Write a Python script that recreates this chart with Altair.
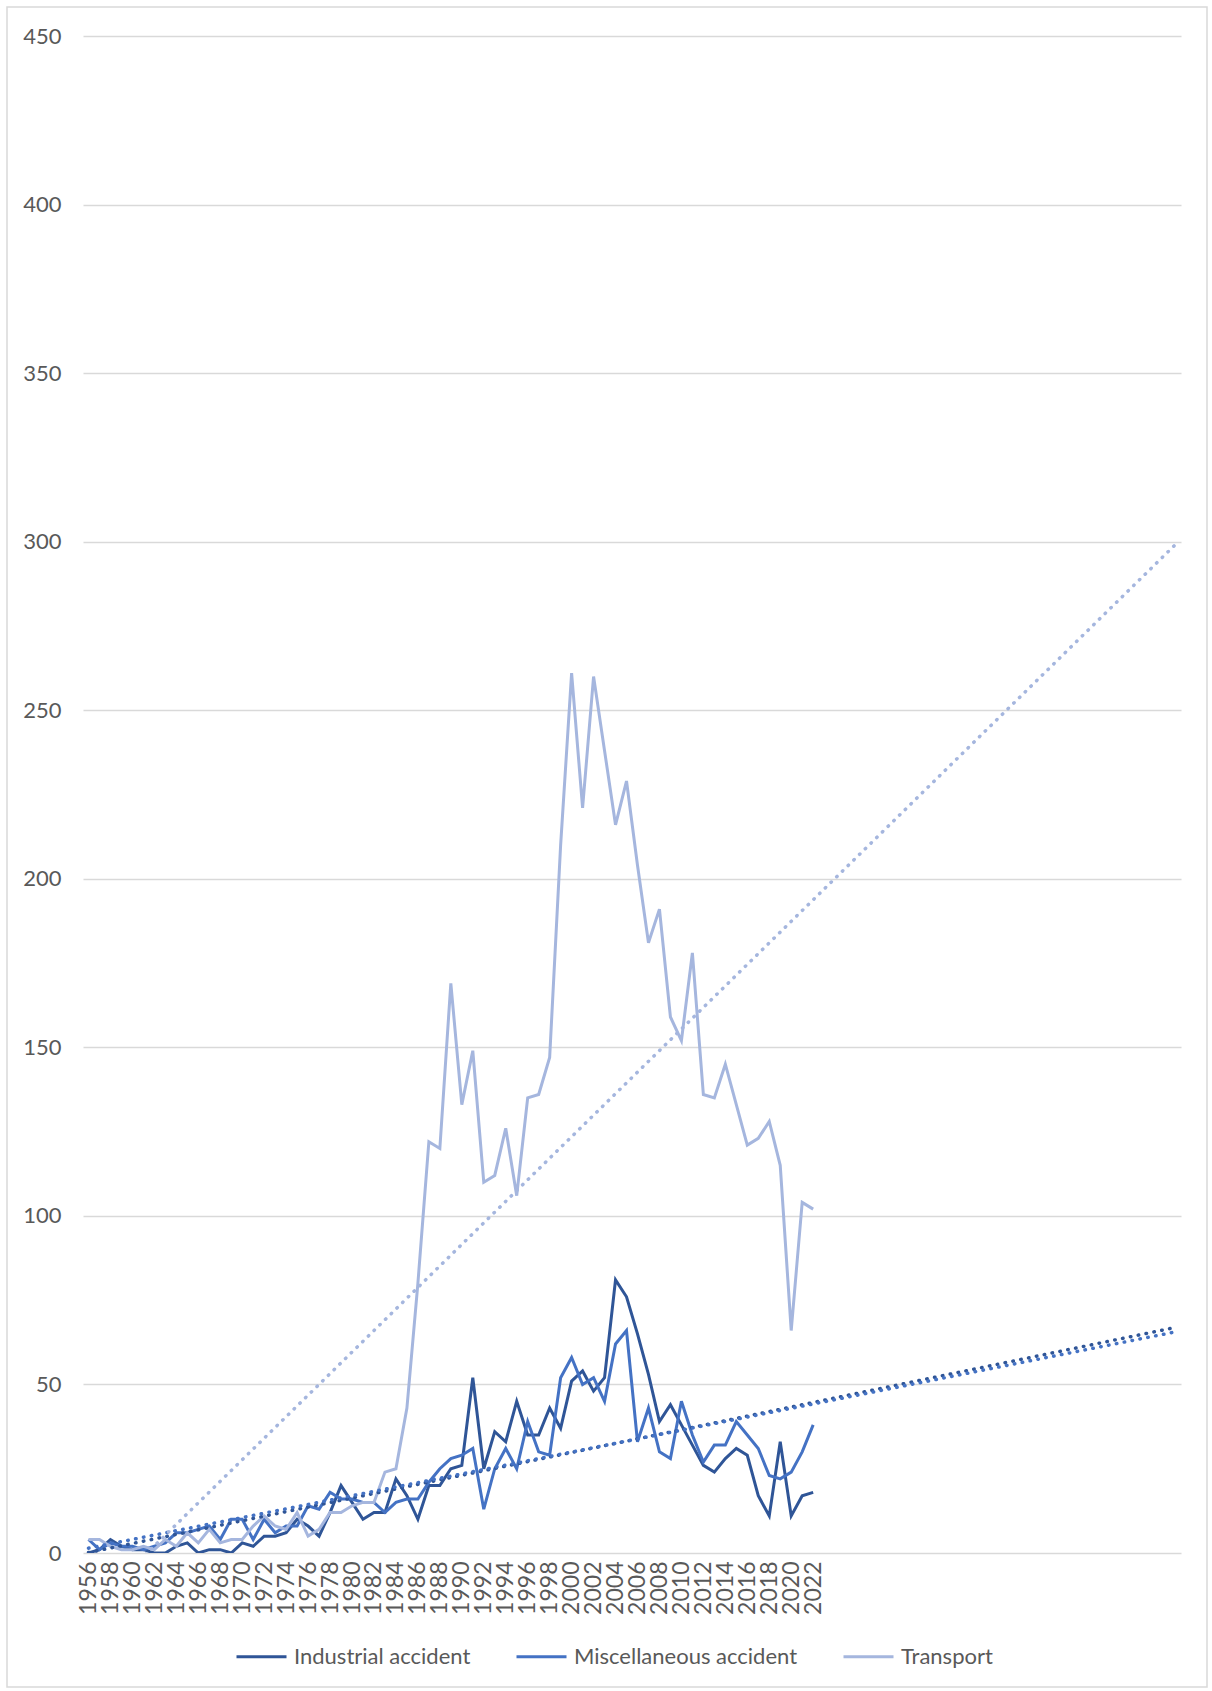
import altair as alt
import pandas as pd

years = list(range(1956, 2023))
series_names = ["Industrial accident", "Miscellaneous accident", "Transport"]

industrial = [0, 1, 4, 2, 1, 1, 0, 0, 2, 3,
              0, 1, 1, 0, 3, 2, 5, 5, 6, 10,
              8, 5, 12, 20, 15, 10, 12, 12, 22, 17,
              10, 20, 20, 25, 26, 52, 25, 36, 33, 45,
              35, 35, 43, 37, 51, 54, 48, 52, 81, 76,
              65, 53, 39, 44, 38, 32, 26, 24, 28, 31,
              29, 17, 11, 33, 11, 17, 18]
miscellaneous = [4, 1, 3, 2, 2, 1, 2, 3, 6, 6,
                 7, 8, 4, 10, 10, 4, 10, 6, 8, 8,
                 14, 13, 18, 16, 16, 15, 15, 12, 15, 16,
                 16, 21, 25, 28, 29, 31, 13, 25, 31, 25,
                 39, 30, 29, 52, 58, 50, 52, 45, 62, 66,
                 33, 43, 30, 28, 45, 35, 27, 32, 32, 39,
                 35, 31, 23, 22, 24, 30, 38]
transport = [4, 4, 2, 1, 1, 2, 1, 4, 2, 6,
             3, 7, 3, 4, 4, 8, 11, 8, 7, 12,
             5, 7, 12, 12, 14, 15, 15, 24, 25, 43,
             80, 122, 120, 169, 133, 149, 110, 112, 126, 106,
             135, 136, 147, 210, 261, 221, 260, 238, 216, 229,
             204, 181, 191, 159, 152, 178, 136, 135, 145, 133,
             121, 123, 128, 115, 66, 104, 102]

y_ticks = list(range(0, 451, 50))
x_ticks = list(range(1956, 2023, 2))
trend_extent = [1956, 2055]

colors = ["#2F5597", "#4472C4", "#A5B6DE"]
FONT = "Lato"
TEXT = "#595959"
GRID = "#D9D9D9"

rows = []
for name, vals in zip(series_names, [industrial, miscellaneous, transport]):
    for yr, v in zip(years, vals):
        rows.append({"year": yr, "series": name, "value": v})
df = pd.DataFrame(rows)

x_axis = alt.Axis(values=x_ticks, format="d", labelAngle=270, grid=False,
                  domain=False, ticks=False, tickSize=0, labelPadding=8,
                  labelFontSize=23, labelFont=FONT, labelColor=TEXT,
                  title=None, labelOverlap=False, labelFlush=False,
                  labelSeparation=0)
y_axis = alt.Axis(values=y_ticks, grid=True, gridColor=GRID, gridWidth=1.3,
                  domain=False, ticks=False, tickSize=0, labelPadding=22,
                  labelFontSize=22, labelFont=FONT, labelColor=TEXT,
                  title=None, labelOverlap=False)
x_scale = alt.Scale(domain=[1955.5, 2055.5], nice=False, zero=False)
y_scale = alt.Scale(domain=[0, 450], nice=False, zero=True)


def x_enc():
    return alt.X("year:Q", scale=x_scale, axis=x_axis)


def y_enc():
    return alt.Y("value:Q", scale=y_scale, axis=y_axis)


lines = alt.Chart(df).mark_line(strokeWidth=3, clip=True).encode(
    x=x_enc(),
    y=y_enc(),
    color=alt.Color("series:N",
                    scale=alt.Scale(domain=series_names, range=colors),
                    sort=series_names,
                    legend=alt.Legend(title=None, orient="none", legendX=152, legendY=1594,
                                      direction="horizontal", symbolType="stroke",
                                      symbolSize=2500, symbolStrokeWidth=3,
                                      labelFontSize=22, labelFont=FONT, labelColor=TEXT,
                                      labelLimit=400, columnPadding=39, labelOffset=6)),
)

trends = []
for name, c in zip(series_names, colors):
    t = alt.Chart(df).transform_filter(
        alt.datum.series == name
    ).transform_regression(
        "year", "value", method="linear", extent=trend_extent
    ).mark_line(color=c, strokeDash=[0.5, 7.5], strokeCap="round",
                strokeWidth=3.5, clip=True).encode(
        x=x_enc(), y=y_enc())
    trends.append(t)

border = alt.Chart(pd.DataFrame({"k": [0]})).mark_rect(
    filled=False, stroke=GRID, strokeWidth=1.5, clip=False
).encode(x=alt.value(-76), x2=alt.value(1124), y=alt.value(-29), y2=alt.value(1651))

chart = alt.layer(lines, *trends, border).properties(
    width=1098, height=1517,
    padding={"left": 83, "top": 36, "right": 31, "bottom": 138},
    autosize=alt.AutoSizeParams(type="none"),
    background="white",
).configure_view(stroke=None).configure_axisX(labelOverlap=False, labelSeparation=0)

chart.save("out.html", embed_options={"renderer": "svg", "actions": False})
